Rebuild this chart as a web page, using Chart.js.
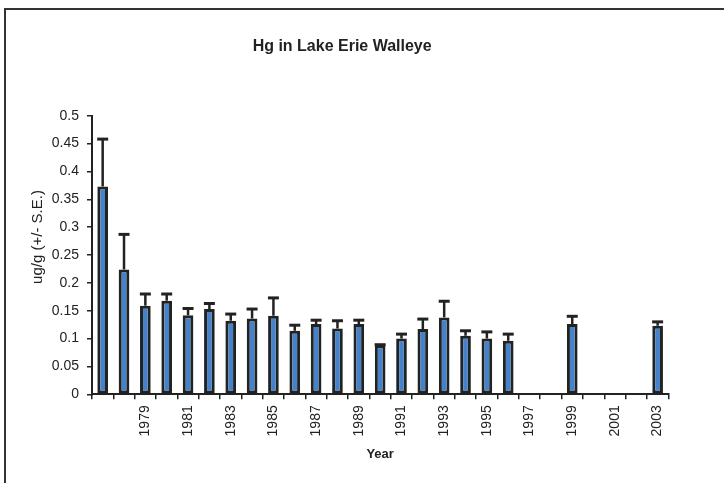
<!DOCTYPE html>
<html>
<head>
<meta charset="utf-8">
<script src="https://cdn.jsdelivr.net/npm/chart.js@4.4.0/dist/chart.umd.min.js"></script>
<style>
  html, body { margin: 0; padding: 0; background: #fff; }
</style>
</head>
<body>
<canvas id="hgChart" width="724" height="483"></canvas>
<script>
// Hg in Lake Erie walleye, yearly means with standard error
const years = ['1977', '1978', '1979', '1980', '1981', '1982', '1983', '1984', '1985', '1986',
               '1987', '1988', '1989', '1990', '1991', '1992', '1993', '1994', '1995', '1996',
               '1997', '1998', '1999', '2000', '2001', '2002', '2003'];
const hgMean = [0.373, 0.224, 0.159, 0.168, 0.142, 0.153, 0.132, 0.136, 0.141, 0.114,
                0.126, 0.118, 0.126, 0.088, 0.100, 0.117, 0.138, 0.105, 0.100, 0.096,
                0, 0, 0.126, 0, 0, 0, 0.123];
const hgSE = [0.085, 0.063, 0.021, 0.012, 0.012, 0.010, 0.012, 0.017, 0.032, 0.010,
              0.007, 0.014, 0.007, 0.001, 0.008, 0.018, 0.029, 0.009, 0.012, 0.012,
              0, 0, 0.014, 0, 0, 0, 0.007];
// only every other year gets a label on the axis
const shownYears = ['1979', '1981', '1983', '1985', '1987', '1989', '1991', '1993', '1995',
                    '1997', '1999', '2001', '2003'];
const yMin = 0, yMax = 0.5, yStep = 0.05;

const ink = '#222';
Chart.defaults.font.family = '"Liberation Sans", Arial, sans-serif';
Chart.defaults.color = ink;

// white page + the dark frame that runs off the right/bottom edge
const framePlugin = {
    id: 'frame',
    beforeDraw(chart) {
        const c = chart.ctx;
        c.save();
        c.fillStyle = '#fff';
        c.fillRect(0, 0, chart.width, chart.height);
        c.strokeStyle = '#333';
        c.lineWidth = 2;
        c.strokeRect(5, 9, 900, 700);
        c.restore();
    }
};

// +S.E. whiskers on top of each bar
const errorBarPlugin = {
    id: 'errorBars',
    afterDatasetsDraw(chart) {
        const c = chart.ctx;
        const meta = chart.getDatasetMeta(0);
        const y = chart.scales.y;
        c.save();
        c.strokeStyle = ink;
        meta.data.forEach((bar, i) => {
            if (!hgMean[i]) return;
            const top = y.getPixelForValue(hgMean[i] + hgSE[i]);
            c.lineWidth = 2.5;
            c.beginPath();
            c.moveTo(bar.x, bar.y);
            c.lineTo(bar.x, top);
            c.stroke();
            c.lineWidth = 3;
            c.beginPath();
            c.moveTo(bar.x - 5.5, top);
            c.lineTo(bar.x + 5.5, top);
            c.stroke();
        });
        c.restore();
    }
};

// y axis title sits a bit above the middle of the plot, as in the original
const yTitlePlugin = {
    id: 'yTitle',
    afterDraw(chart) {
        const c = chart.ctx;
        c.save();
        c.translate(37.5, 237);
        c.rotate(-Math.PI / 2);
        c.font = '15px "Liberation Sans", Arial, sans-serif';
        c.fillStyle = ink;
        c.textAlign = 'center';
        c.textBaseline = 'middle';
        c.fillText('ug/g (+/- S.E.)', 0, 0);
        c.restore();
    }
};

const ctx = document.getElementById('hgChart').getContext('2d');

window.myChart = new Chart(ctx, {
    type: 'bar',
    data: {
        labels: years,
        datasets: [
            {
                label: 'Hg',
                data: hgMean,
                backgroundColor: '#4682c8',
                borderColor: ink,
                borderWidth: 3,
                borderSkipped: false,
                categoryPercentage: 1,
                barPercentage: 0.5
            }
        ]
    },
    options: {
        responsive: false,
        animation: false,
        layout: { padding: { left: 16, right: 55.7, top: 0, bottom: 0 } },
        plugins: {
            legend: { display: false },
            tooltip: { enabled: false },
            title: {
                display: true,
                text: 'Hg in Lake Erie Walleye',
                color: ink,
                font: { size: 16, weight: 'bold' },
                padding: { top: 37, bottom: 59.5 }
            }
        },
        scales: {
            x: {
                grid: { drawOnChartArea: false, drawTicks: true, tickLength: 5, color: ink, lineWidth: 1.5, offset: true },
                border: { display: true, color: ink, width: 2 },
                ticks: {
                    autoSkip: false,
                    minRotation: 90,
                    maxRotation: 90,
                    padding: 6,
                    color: ink,
                    font: { size: 14 },
                    callback: function (value) {
                        const lbl = this.getLabelForValue(value);
                        return shownYears.includes(lbl) ? lbl : '';
                    }
                },
                title: {
                    display: true,
                    text: 'Year',
                    color: ink,
                    font: { size: 13, weight: 'bold' },
                    padding: { top: 0, bottom: 21 }
                },
                afterFit: scale => { scale.height = 88.7; }
            },
            y: {
                min: yMin,
                max: yMax,
                grid: { drawOnChartArea: false, drawTicks: true, tickLength: 5, color: ink, lineWidth: 1.5 },
                border: { display: true, color: ink, width: 2 },
                ticks: {
                    stepSize: yStep,
                    padding: 8,
                    color: ink,
                    font: { size: 14 },
                    callback: value => String(+value.toFixed(2))
                },
                afterFit: scale => { scale.width = 76; }
            }
        }
    },
    plugins: [framePlugin, errorBarPlugin, yTitlePlugin]
});
</script>
</body>
</html>
